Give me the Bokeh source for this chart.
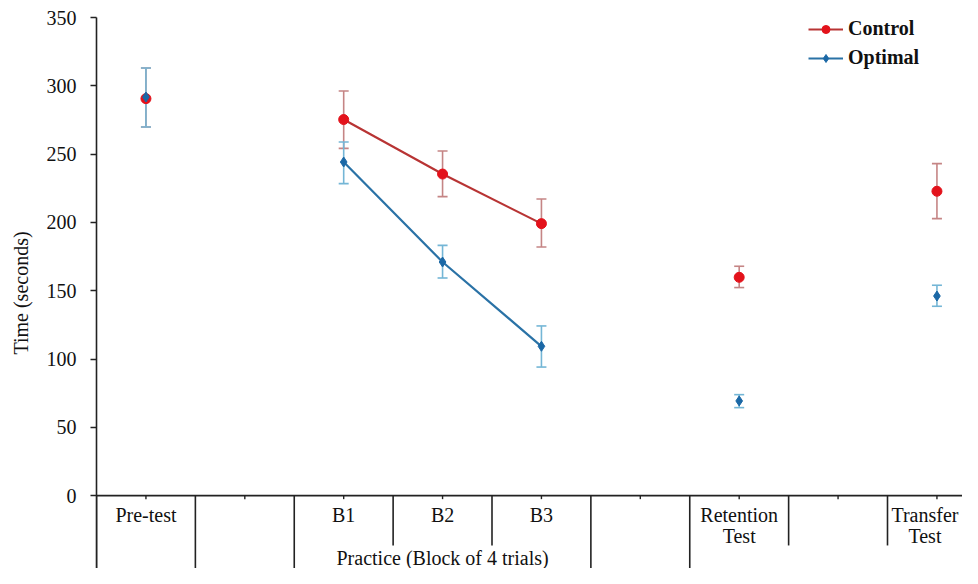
from bokeh.plotting import figure
from bokeh.models import (ColumnDataSource, Whisker, TeeHead, FixedTicker, Range1d,
                          Legend, LegendItem)
from bokeh.embed import file_html
from bokeh.resources import INLINE
from bokeh.core.properties import value

# ---------------- data ----------------
label_line1 = ["Pre-test", "", "B1", "B2", "B3", "", "Retention", "", "Transfer"]
label_line2 = ["", "", "", "", "", "", "Test", "", "Test"]
group_label = "Practice (Block of 4 trials)"
group_first, group_last = 2, 4          # categories covered by the practice group
group_bounds = [0, 1, 2, 5, 6, 9]       # boundaries of second-level groups

measure_idx = [0, 2, 3, 4, 6, 8]        # category index of each measurement
practice_pos = [1, 2, 3]                # measurements joined by a line (B1..B3)

control_mean = [290.6, 275.3, 235.4, 199.1, 159.8, 222.8]
control_upper = [313.0, 296.2, 252.3, 217.1, 167.9, 243.0]
control_lower = [269.8, 254.2, 218.9, 182.0, 152.3, 202.8]

optimal_mean = [291.8, 244.2, 171.0, 109.3, 69.3, 146.1]
optimal_upper = [313.0, 258.9, 183.2, 124.2, 73.9, 154.0]
optimal_lower = [269.8, 228.4, 159.3, 94.1, 64.4, 138.6]

y_ticks = [0, 50, 100, 150, 200, 250, 300, 350]
y_label = "Time (seconds)"
series_names = ["Control", "Optimal"]

# ---------------- styling ----------------
FONT = "Liberation Serif"
AXIS_COL = "#222222"
TXT = "#111111"
C_MARK, C_LINE, C_ERR = "#e3121b", "#b83434", "#c58585"
O_MARK, O_LINE, O_ERR = "#1b68a6", "#2a72a6", "#74b6d6"

W, H = 962, 568
BL, BT = 96, 17
px_per_unit = 1.366
cat_px = 98.875
frame_h = H - BT
frame_w = W - BL
y_start = 350 - frame_h / px_per_unit
x_end = frame_w / cat_px

p = figure(width=W, height=H, output_backend="svg", toolbar_location=None,
           x_range=Range1d(0, x_end), y_range=Range1d(y_start, 350),
           x_axis_location=None, min_border_left=BL, min_border_right=0,
           min_border_top=BT, min_border_bottom=0)
p.outline_line_color = None
p.grid.visible = False
p.background_fill_color = "white"

ya = p.yaxis[0]
ya.ticker = FixedTicker(ticks=y_ticks, minor_ticks=[])
ya.axis_line_color = AXIS_COL
ya.axis_line_width = 1.6
ya.major_tick_line_color = AXIS_COL
ya.major_tick_line_width = 1.6
ya.major_tick_out = 6
ya.major_tick_in = 0
ya.minor_tick_line_color = None
ya.major_label_text_font = FONT
ya.major_label_text_font_size = "20px"
ya.major_label_text_color = TXT
ya.major_label_standoff = 14
ya.axis_label = y_label
ya.axis_label_text_font = FONT
ya.axis_label_text_font_size = "20px"
ya.axis_label_text_font_style = "normal"
ya.axis_label_text_color = TXT
ya.axis_label_standoff = 12

# ---------------- category axis (multi-level) ----------------
n_cat = len(label_line1)
p.segment(x0=[0], y0=[0], x1=[n_cat], y1=[0], line_color=AXIS_COL, line_width=1.6)
long_b = group_bounds
short_b = [b for b in range(n_cat + 1) if b not in group_bounds]
p.segment(x0=long_b, y0=[0] * len(long_b), x1=long_b, y1=[y_start - 20] * len(long_b),
          line_color=AXIS_COL, line_width=1.6)
p.segment(x0=short_b, y0=[0] * len(short_b), x1=short_b, y1=[-36.5] * len(short_b),
          line_color=AXIS_COL, line_width=1.6)
centers = [i + 0.5 for i in range(n_cat)]
p.segment(x0=centers, y0=[0] * n_cat, x1=centers, y1=[-2.6] * n_cat,
          line_color=AXIS_COL, line_width=1.4)

# keep the last label inside the visible page
x_shift = [0] * (n_cat - 1) + [-12]
lab_src = ColumnDataSource(dict(x=centers, l1=label_line1, l2=label_line2, dx=x_shift,
                                y1=[-13.9] * n_cat, y2=[-29.6] * n_cat))
p.text(x="x", y="y1", text="l1", x_offset="dx", source=lab_src, text_font=value(FONT),
       text_font_size="20px", text_align="center", text_baseline="middle", text_color=TXT)
p.text(x="x", y="y2", text="l2", x_offset="dx", source=lab_src, text_font=value(FONT),
       text_font_size="20px", text_align="center", text_baseline="middle", text_color=TXT)
p.text(x=[(group_first + group_last + 1) / 2], y=[-45.6], text=[group_label],
       text_font=value(FONT), text_font_size="20px", text_align="center",
       text_baseline="middle", text_color=TXT)

# ---------------- series ----------------
xs = [i + 0.5 for i in measure_idx]

def add_series(mean, upper, lower, lcol, ecol):
    src = ColumnDataSource(dict(x=xs, y=mean, upper=upper, lower=lower))
    w = Whisker(base="x", upper="upper", lower="lower", source=src,
                line_color=ecol, line_width=1.6,
                upper_head=TeeHead(size=10, line_color=ecol, line_width=1.6),
                lower_head=TeeHead(size=10, line_color=ecol, line_width=1.6))
    p.add_layout(w)
    lsrc = ColumnDataSource(dict(x=[xs[k] for k in practice_pos],
                                 y=[mean[k] for k in practice_pos]))
    lr = p.line("x", "y", source=lsrc, line_color=lcol, line_width=2.2)
    return src, lr

c_src, c_line = add_series(control_mean, control_upper, control_lower, C_LINE, C_ERR)
o_src, o_line = add_series(optimal_mean, optimal_upper, optimal_lower, O_LINE, O_ERR)
c_sc = p.scatter("x", "y", source=c_src, marker="circle", size=10,
                 fill_color=C_MARK, line_color=C_MARK)
o_sc = p.scatter("x", "y", source=o_src, marker="diamond", size=10,
                 fill_color=O_MARK, line_color=O_MARK)

legend = Legend(items=[LegendItem(label=series_names[0], renderers=[c_line, c_sc]),
                       LegendItem(label=series_names[1], renderers=[o_line, o_sc])],
                location=(712, 499), border_line_color=None, background_fill_alpha=0,
                label_text_font=FONT, label_text_font_style="bold",
                label_text_font_size="20px", label_text_color=TXT,
                glyph_width=35, glyph_height=20, label_height=20,
                label_standoff=5, spacing=6, padding=0, margin=0)
p.add_layout(legend)

open("out.html", "w").write(file_html(p, INLINE))
